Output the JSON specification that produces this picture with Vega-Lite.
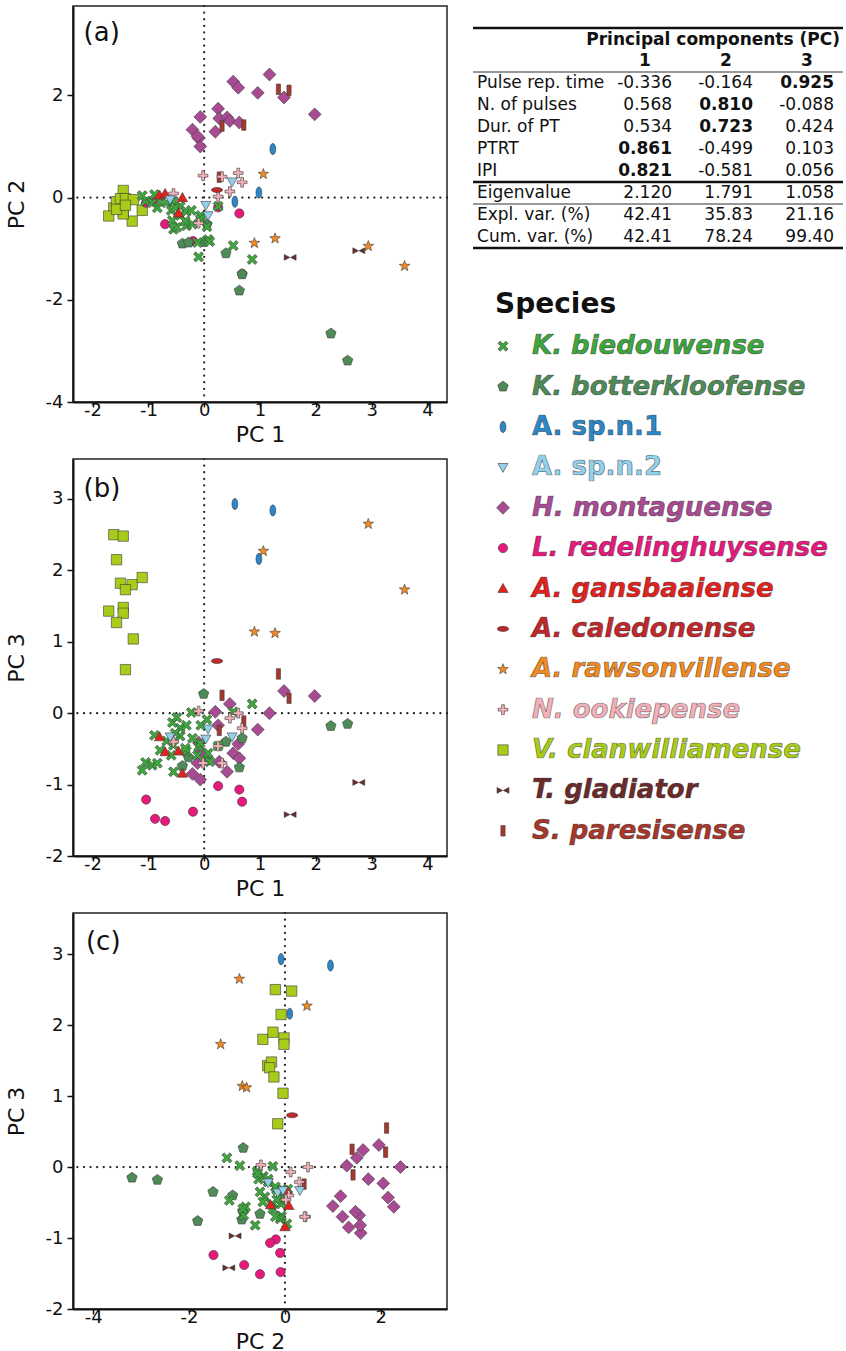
{
  "$schema": "https://vega.github.io/schema/vega-lite/v6.json",
  "padding": {"left": 4, "top": 4, "right": 2, "bottom": 0},
  "background": "white",
  "config": {
    "font": "DejaVu Sans",
    "locale": {"number": {"decimal": ".", "thousands": ",", "grouping": [3], "currency": ["$", ""], "minus": "-"}},
    "view": {"stroke": null},
    "axis": {"labelFont": "DejaVu Sans", "labelFontSize": 18, "labelColor": "#111", "titleFont": "DejaVu Sans", "titleFontSize": 22, "titleFontWeight": "normal", "titleColor": "#111", "domainColor": "#111", "domainWidth": 2, "tickColor": "#111", "tickWidth": 1.5, "grid": false, "labelOverlap": false, "format": "d"},
    "axisX": {"tickSize": 5, "labelPadding": -6, "titlePadding": 5},
    "axisY": {"tickSize": 6, "labelPadding": 4, "titlePadding": 17},
    "text": {"font": "DejaVu Sans", "color": "#111"}
  },
  "datasets": {
    "pts": [
      {"species": "V. clanwilliamense", "pc1": -1.62, "pc2": -0.2, "pc3": 2.5},
      {"species": "V. clanwilliamense", "pc1": -1.45, "pc2": 0.14, "pc3": 2.48},
      {"species": "V. clanwilliamense", "pc1": -1.57, "pc2": -0.08, "pc3": 2.15},
      {"species": "V. clanwilliamense", "pc1": -1.5, "pc2": -0.02, "pc3": 1.82},
      {"species": "V. clanwilliamense", "pc1": -1.29, "pc2": -0.46, "pc3": 1.8},
      {"species": "V. clanwilliamense", "pc1": -1.41, "pc2": -0.02, "pc3": 1.73},
      {"species": "V. clanwilliamense", "pc1": -1.11, "pc2": -0.25, "pc3": 1.9},
      {"species": "V. clanwilliamense", "pc1": -1.71, "pc2": -0.36, "pc3": 1.43},
      {"species": "V. clanwilliamense", "pc1": -1.45, "pc2": -0.28, "pc3": 1.48},
      {"species": "V. clanwilliamense", "pc1": -1.45, "pc2": -0.32, "pc3": 1.4},
      {"species": "V. clanwilliamense", "pc1": -1.57, "pc2": -0.23, "pc3": 1.27},
      {"species": "V. clanwilliamense", "pc1": -1.27, "pc2": -0.04, "pc3": 1.04},
      {"species": "V. clanwilliamense", "pc1": -1.41, "pc2": -0.15, "pc3": 0.61},
      {"species": "H. montaguense", "pc1": 1.17, "pc2": 2.41, "pc3": 0.0},
      {"species": "H. montaguense", "pc1": 0.52, "pc2": 2.27, "pc3": -0.56},
      {"species": "H. montaguense", "pc1": 0.61, "pc2": 2.15, "pc3": -0.43},
      {"species": "H. montaguense", "pc1": 0.96, "pc2": 2.05, "pc3": -0.23},
      {"species": "H. montaguense", "pc1": 1.43, "pc2": 1.96, "pc3": 0.31},
      {"species": "H. montaguense", "pc1": 1.98, "pc2": 1.63, "pc3": 0.24},
      {"species": "H. montaguense", "pc1": 0.25, "pc2": 1.74, "pc3": -0.17},
      {"species": "H. montaguense", "pc1": -0.07, "pc2": 1.58, "pc3": -0.93},
      {"species": "H. montaguense", "pc1": 0.27, "pc2": 1.55, "pc3": -0.68},
      {"species": "H. montaguense", "pc1": 0.41, "pc2": 1.57, "pc3": -0.82},
      {"species": "H. montaguense", "pc1": 0.46, "pc2": 1.5, "pc3": 0.13},
      {"species": "H. montaguense", "pc1": 0.63, "pc2": 1.47, "pc3": -0.63},
      {"species": "H. montaguense", "pc1": -0.21, "pc2": 1.33, "pc3": -0.85},
      {"species": "H. montaguense", "pc1": -0.1, "pc2": 1.16, "pc3": -0.41},
      {"species": "H. montaguense", "pc1": -0.07, "pc2": 1.0, "pc3": -0.55},
      {"species": "H. montaguense", "pc1": 0.2, "pc2": 1.29, "pc3": 0.02},
      {"species": "H. montaguense", "pc1": -0.12, "pc2": 1.2, "pc3": -0.7},
      {"species": "S. paresisense", "pc1": 1.33, "pc2": 2.12, "pc3": 0.55},
      {"species": "S. paresisense", "pc1": 1.52, "pc2": 2.1, "pc3": 0.21},
      {"species": "S. paresisense", "pc1": 0.32, "pc2": 1.4, "pc3": 0.25},
      {"species": "S. paresisense", "pc1": 0.71, "pc2": 1.42, "pc3": -0.11},
      {"species": "S. paresisense", "pc1": 0.27, "pc2": 0.4, "pc3": -0.24},
      {"species": "L. redelinghuysense", "pc1": -1.04, "pc2": -0.1, "pc3": -1.21},
      {"species": "L. redelinghuysense", "pc1": -0.88, "pc2": -0.09, "pc3": -1.48},
      {"species": "L. redelinghuysense", "pc1": -0.7, "pc2": -0.52, "pc3": -1.51},
      {"species": "L. redelinghuysense", "pc1": -0.2, "pc2": -0.85, "pc3": -1.38},
      {"species": "L. redelinghuysense", "pc1": 0.25, "pc2": -0.19, "pc3": -1.02},
      {"species": "L. redelinghuysense", "pc1": 0.63, "pc2": -0.31, "pc3": -1.07},
      {"species": "L. redelinghuysense", "pc1": 0.68, "pc2": -1.49, "pc3": -1.24},
      {"species": "K. botterkloofense", "pc1": 2.27, "pc2": -2.66, "pc3": -0.18},
      {"species": "K. botterkloofense", "pc1": 2.57, "pc2": -3.19, "pc3": -0.15},
      {"species": "K. botterkloofense", "pc1": 0.63, "pc2": -1.82, "pc3": -0.76},
      {"species": "K. botterkloofense", "pc1": 0.68, "pc2": -1.5, "pc3": -0.35},
      {"species": "K. botterkloofense", "pc1": 0.39, "pc2": -1.09, "pc3": -0.4},
      {"species": "K. botterkloofense", "pc1": -0.39, "pc2": -0.9, "pc3": -0.74},
      {"species": "K. botterkloofense", "pc1": -0.28, "pc2": -0.88, "pc3": -0.62},
      {"species": "K. botterkloofense", "pc1": -0.01, "pc2": -0.87, "pc3": 0.27},
      {"species": "K. botterkloofense", "pc1": 0.05, "pc2": -0.52, "pc3": -0.66},
      {"species": "K. biedouwense", "pc1": 0.86, "pc2": -1.21, "pc3": 0.13},
      {"species": "K. biedouwense", "pc1": 0.52, "pc2": -0.94, "pc3": 0.02},
      {"species": "K. biedouwense", "pc1": -0.1, "pc2": -1.16, "pc3": -0.47},
      {"species": "K. biedouwense", "pc1": 0.07, "pc2": -0.82, "pc3": -0.56},
      {"species": "K. biedouwense", "pc1": 0.1, "pc2": -0.86, "pc3": -0.68},
      {"species": "K. biedouwense", "pc1": -1.05, "pc2": -0.07, "pc3": -0.69},
      {"species": "K. biedouwense", "pc1": -0.93, "pc2": -0.1, "pc3": -0.73},
      {"species": "K. biedouwense", "pc1": -1.11, "pc2": 0.04, "pc3": -0.8},
      {"species": "K. biedouwense", "pc1": -0.84, "pc2": -0.2, "pc3": -0.7},
      {"species": "K. biedouwense", "pc1": -0.89, "pc2": 0.06, "pc3": -0.31},
      {"species": "K. biedouwense", "pc1": -0.79, "pc2": -0.08, "pc3": -0.52},
      {"species": "K. biedouwense", "pc1": -0.67, "pc2": -0.1, "pc3": -0.39},
      {"species": "K. biedouwense", "pc1": -0.55, "pc2": -0.08, "pc3": -0.45},
      {"species": "K. biedouwense", "pc1": -0.59, "pc2": -0.25, "pc3": -0.59},
      {"species": "K. biedouwense", "pc1": -0.55, "pc2": -0.62, "pc3": -0.82},
      {"species": "K. biedouwense", "pc1": -0.43, "pc2": -0.17, "pc3": -0.32},
      {"species": "K. biedouwense", "pc1": -0.43, "pc2": -0.35, "pc3": -0.21},
      {"species": "K. biedouwense", "pc1": -0.52, "pc2": -0.2, "pc3": -0.28},
      {"species": "K. biedouwense", "pc1": -0.32, "pc2": -0.27, "pc3": -0.53},
      {"species": "K. biedouwense", "pc1": -0.32, "pc2": -0.55, "pc3": -0.17},
      {"species": "K. biedouwense", "pc1": -0.57, "pc2": -0.45, "pc3": -0.13},
      {"species": "K. biedouwense", "pc1": -0.49, "pc2": -0.58, "pc3": -0.06},
      {"species": "K. biedouwense", "pc1": -0.23, "pc2": -0.25, "pc3": 0.01},
      {"species": "K. biedouwense", "pc1": -0.06, "pc2": -0.35, "pc3": -0.17},
      {"species": "K. biedouwense", "pc1": 0.05, "pc2": -0.57, "pc3": -0.09},
      {"species": "K. biedouwense", "pc1": -0.07, "pc2": -0.42, "pc3": -0.42},
      {"species": "K. biedouwense", "pc1": -0.21, "pc2": -0.52, "pc3": -0.35},
      {"species": "K. biedouwense", "pc1": -0.34, "pc2": -0.46, "pc3": -0.49},
      {"species": "K. biedouwense", "pc1": 0.25, "pc2": -0.17, "pc3": -0.46},
      {"species": "K. biedouwense", "pc1": -0.12, "pc2": -0.88, "pc3": -0.59},
      {"species": "A. gansbaaiense", "pc1": -0.8, "pc2": 0.05, "pc3": -0.33},
      {"species": "A. gansbaaiense", "pc1": -0.7, "pc2": 0.08, "pc3": -0.54},
      {"species": "A. gansbaaiense", "pc1": -0.46, "pc2": -0.3, "pc3": -0.53},
      {"species": "A. gansbaaiense", "pc1": -0.39, "pc2": 0.0, "pc3": -0.84},
      {"species": "N. ookiepense", "pc1": -0.02, "pc2": 0.43, "pc3": -0.7},
      {"species": "N. ookiepense", "pc1": 0.32, "pc2": 0.41, "pc3": -0.7},
      {"species": "N. ookiepense", "pc1": 0.61, "pc2": 0.48, "pc3": 0.0},
      {"species": "N. ookiepense", "pc1": 0.68, "pc2": 0.3, "pc3": -0.21},
      {"species": "N. ookiepense", "pc1": 0.46, "pc2": 0.12, "pc3": -0.07},
      {"species": "N. ookiepense", "pc1": -0.55, "pc2": 0.08, "pc3": -0.4},
      {"species": "N. ookiepense", "pc1": -0.1, "pc2": -0.5, "pc3": 0.03},
      {"species": "N. ookiepense", "pc1": 0.25, "pc2": 0.02, "pc3": -0.46},
      {"species": "A. sp.n.2", "pc1": 0.5, "pc2": 0.31, "pc3": -0.33},
      {"species": "A. sp.n.2", "pc1": 0.07, "pc2": -0.35, "pc3": -0.22},
      {"species": "A. sp.n.2", "pc1": 0.03, "pc2": -0.15, "pc3": -0.36},
      {"species": "A. sp.n.2", "pc1": -0.61, "pc2": -0.04, "pc3": -0.33},
      {"species": "A. sp.n.1", "pc1": 0.55, "pc2": -0.08, "pc3": 2.93},
      {"species": "A. sp.n.1", "pc1": 1.23, "pc2": 0.95, "pc3": 2.84},
      {"species": "A. sp.n.1", "pc1": 0.98, "pc2": 0.1, "pc3": 2.16},
      {"species": "A. caledonense", "pc1": 0.23, "pc2": 0.15, "pc3": 0.73},
      {"species": "A. rawsonvillense", "pc1": 1.06, "pc2": 0.46, "pc3": 2.27},
      {"species": "A. rawsonvillense", "pc1": 0.9, "pc2": -0.89, "pc3": 1.14},
      {"species": "A. rawsonvillense", "pc1": 1.27, "pc2": -0.8, "pc3": 1.12},
      {"species": "A. rawsonvillense", "pc1": 2.94, "pc2": -0.95, "pc3": 2.65},
      {"species": "A. rawsonvillense", "pc1": 3.59, "pc2": -1.34, "pc3": 1.73},
      {"species": "T. gladiator", "pc1": 1.54, "pc2": -1.17, "pc3": -1.42},
      {"species": "T. gladiator", "pc1": 2.77, "pc2": -1.04, "pc3": -0.97}
    ],
    "loadings": [
      {"variable": "Pulse rep. time", "r": 2, "pc": 1, "value": -0.336, "kind": "loading"},
      {"variable": "Pulse rep. time", "r": 2, "pc": 2, "value": -0.164, "kind": "loading"},
      {"variable": "Pulse rep. time", "r": 2, "pc": 3, "value": 0.925, "kind": "loading"},
      {"variable": "N. of pulses", "r": 3, "pc": 1, "value": 0.568, "kind": "loading"},
      {"variable": "N. of pulses", "r": 3, "pc": 2, "value": 0.81, "kind": "loading"},
      {"variable": "N. of pulses", "r": 3, "pc": 3, "value": -0.088, "kind": "loading"},
      {"variable": "Dur. of PT", "r": 4, "pc": 1, "value": 0.534, "kind": "loading"},
      {"variable": "Dur. of PT", "r": 4, "pc": 2, "value": 0.723, "kind": "loading"},
      {"variable": "Dur. of PT", "r": 4, "pc": 3, "value": 0.424, "kind": "loading"},
      {"variable": "PTRT", "r": 5, "pc": 1, "value": 0.861, "kind": "loading"},
      {"variable": "PTRT", "r": 5, "pc": 2, "value": -0.499, "kind": "loading"},
      {"variable": "PTRT", "r": 5, "pc": 3, "value": 0.103, "kind": "loading"},
      {"variable": "IPI", "r": 6, "pc": 1, "value": 0.821, "kind": "loading"},
      {"variable": "IPI", "r": 6, "pc": 2, "value": -0.581, "kind": "loading"},
      {"variable": "IPI", "r": 6, "pc": 3, "value": 0.056, "kind": "loading"},
      {"variable": "Eigenvalue", "r": 7, "pc": 1, "value": 2.12, "kind": "eigen"},
      {"variable": "Eigenvalue", "r": 7, "pc": 2, "value": 1.791, "kind": "eigen"},
      {"variable": "Eigenvalue", "r": 7, "pc": 3, "value": 1.058, "kind": "eigen"},
      {"variable": "Expl. var. (%)", "r": 8, "pc": 1, "value": 42.41, "kind": "var"},
      {"variable": "Expl. var. (%)", "r": 8, "pc": 2, "value": 35.83, "kind": "var"},
      {"variable": "Expl. var. (%)", "r": 8, "pc": 3, "value": 21.16, "kind": "var"},
      {"variable": "Cum. var. (%)", "r": 9, "pc": 1, "value": 42.41, "kind": "var"},
      {"variable": "Cum. var. (%)", "r": 9, "pc": 2, "value": 78.24, "kind": "var"},
      {"variable": "Cum. var. (%)", "r": 9, "pc": 3, "value": 99.4, "kind": "var"}
    ],
    "tableLines": [
      {"at": -0.5, "line": "heavy"},
      {"at": 1.5, "line": "light"},
      {"at": 6.5, "line": "heavy"},
      {"at": 7.5, "line": "light"},
      {"at": 9.5, "line": "heavy"}
    ],
    "speciesList": [
      {"species": "K. biedouwense"},
      {"species": "K. botterkloofense"},
      {"species": "A. sp.n.1"},
      {"species": "A. sp.n.2"},
      {"species": "H. montaguense"},
      {"species": "L. redelinghuysense"},
      {"species": "A. gansbaaiense"},
      {"species": "A. caledonense"},
      {"species": "A. rawsonvillense"},
      {"species": "N. ookiepense"},
      {"species": "V. clanwilliamense"},
      {"species": "T. gladiator"},
      {"species": "S. paresisense"}
    ]
  },
  "hconcat": [
    {
      "vconcat": [
        {
          "width": 374, "height": 396,
          "view": {"stroke": "#222", "strokeWidth": 1.5},
          "layer": [
            {"data": {"values": [{}]}, "mark": {"type": "rule", "strokeDash": [0.1, 6.5], "strokeCap": "round", "strokeWidth": 2.2, "color": "#222"},
             "encoding": {"x": {"datum": 0, "type": "quantitative", "scale": {"domain": [-2.35, 4.35], "nice": false, "zero": false}}}},
            {"data": {"values": [{}]}, "mark": {"type": "rule", "strokeDash": [0.1, 6.5], "strokeCap": "round", "strokeWidth": 2.2, "color": "#222"},
             "encoding": {"y": {"datum": 0, "type": "quantitative", "scale": {"domain": [-4, 3.75], "nice": false, "zero": false}}}},
            {"data": {"name": "pts"},
             "mark": {"type": "point", "filled": true, "opacity": 1, "size": 196, "stroke": "#3a3a3a", "strokeWidth": 0.6},
             "encoding": {
               "x": {"field": "pc1", "type": "quantitative", "scale": {"domain": [-2.35, 4.35], "nice": false, "zero": false}, "axis": {"title": "PC 1", "values": [-2, -1, 0, 1, 2, 3, 4]}},
               "y": {"field": "pc2", "type": "quantitative", "scale": {"domain": [-4, 3.75], "nice": false, "zero": false}, "axis": {"title": "PC 2", "values": [-4, -2, 0, 2]}},
               "color": {"field": "species", "type": "nominal", "legend": null, "scale": {"domain": ["K. biedouwense", "K. botterkloofense", "A. sp.n.1", "A. sp.n.2", "H. montaguense", "L. redelinghuysense", "A. gansbaaiense", "A. caledonense", "A. rawsonvillense", "N. ookiepense", "V. clanwilliamense", "T. gladiator", "S. paresisense"], "range": ["#3DA63D", "#4E8B57", "#2C87C8", "#93D0EC", "#A94B93", "#E8197D", "#E3221E", "#C0282C", "#F18A22", "#F2B0B8", "#A9CC1A", "#6B2B2B", "#A8372C"]}},
               "shape": {"field": "species", "type": "nominal", "legend": null, "scale": {"domain": ["K. biedouwense", "K. botterkloofense", "A. sp.n.1", "A. sp.n.2", "H. montaguense", "L. redelinghuysense", "A. gansbaaiense", "A. caledonense", "A. rawsonvillense", "N. ookiepense", "V. clanwilliamense", "T. gladiator", "S. paresisense"], "range": ["M0.41,-0.72L0.72,-0.41L0.31,0L0.72,0.41L0.41,0.72L0,0.31L-0.41,0.72L-0.72,0.41L-0.31,0L-0.72,-0.41L-0.41,-0.72L0,-0.31Z", "M0,-0.78L0.74,-0.24L0.46,0.63L-0.46,0.63L-0.74,-0.24Z", "M0,-0.8A0.42,0.8,0,1,1,0,0.8A0.42,0.8,0,1,1,0,-0.8Z", "M-0.72,-0.55L0.72,-0.55L0,0.72Z", "M0,-0.92L0.92,0L0,0.92L-0.92,0Z", "M0,-0.66A0.66,0.66,0,1,1,0,0.66A0.66,0.66,0,1,1,0,-0.66Z", "M0,-0.72L0.74,0.58L-0.74,0.58Z", "M-0.8,0A0.8,0.36,0,1,1,0.8,0A0.8,0.36,0,1,1,-0.8,0Z", "M0,-0.8L0.19,-0.27L0.76,-0.25L0.31,0.1L0.47,0.65L0,0.33L-0.47,0.65L-0.31,0.1L-0.76,-0.25L-0.19,-0.27Z", "M-0.2,-0.7L0.2,-0.7L0.2,-0.2L0.7,-0.2L0.7,0.2L0.2,0.2L0.2,0.7L-0.2,0.7L-0.2,0.2L-0.7,0.2L-0.7,-0.2L-0.2,-0.2Z", "M-0.74,-0.74L0.74,-0.74L0.74,0.74L-0.74,0.74Z", "M-0.85,-0.42L-0.05,0L-0.85,0.42ZM0.85,-0.42L0.05,0L0.85,0.42Z", "M-0.3,-0.75L0.3,-0.75L0.3,0.75L-0.3,0.75Z"]}}
             }},
            {"data": {"values": [{}]}, "mark": {"type": "text", "text": "(a)", "align": "left", "baseline": "middle", "fontSize": 26},
             "encoding": {"x": {"datum": -2.16, "type": "quantitative", "scale": {"domain": [-2.35, 4.35], "nice": false, "zero": false}}, "y": {"datum": 3.22, "type": "quantitative", "scale": {"domain": [-4, 3.75], "nice": false, "zero": false}}}}
          ]
        },
        {
          "width": 374, "height": 397,
          "view": {"stroke": "#222", "strokeWidth": 1.5},
          "layer": [
            {"data": {"values": [{}]}, "mark": {"type": "rule", "strokeDash": [0.1, 6.5], "strokeCap": "round", "strokeWidth": 2.2, "color": "#222"},
             "encoding": {"x": {"datum": 0, "type": "quantitative", "scale": {"domain": [-2.35, 4.35], "nice": false, "zero": false}}}},
            {"data": {"values": [{}]}, "mark": {"type": "rule", "strokeDash": [0.1, 6.5], "strokeCap": "round", "strokeWidth": 2.2, "color": "#222"},
             "encoding": {"y": {"datum": 0, "type": "quantitative", "scale": {"domain": [-2, 3.56], "nice": false, "zero": false}}}},
            {"data": {"name": "pts"},
             "mark": {"type": "point", "filled": true, "opacity": 1, "size": 196, "stroke": "#3a3a3a", "strokeWidth": 0.6},
             "encoding": {
               "x": {"field": "pc1", "type": "quantitative", "scale": {"domain": [-2.35, 4.35], "nice": false, "zero": false}, "axis": {"title": "PC 1", "values": [-2, -1, 0, 1, 2, 3, 4]}},
               "y": {"field": "pc3", "type": "quantitative", "scale": {"domain": [-2, 3.56], "nice": false, "zero": false}, "axis": {"title": "PC 3", "values": [-2, -1, 0, 1, 2, 3]}},
               "color": {"field": "species", "type": "nominal", "legend": null, "scale": {"domain": ["K. biedouwense", "K. botterkloofense", "A. sp.n.1", "A. sp.n.2", "H. montaguense", "L. redelinghuysense", "A. gansbaaiense", "A. caledonense", "A. rawsonvillense", "N. ookiepense", "V. clanwilliamense", "T. gladiator", "S. paresisense"], "range": ["#3DA63D", "#4E8B57", "#2C87C8", "#93D0EC", "#A94B93", "#E8197D", "#E3221E", "#C0282C", "#F18A22", "#F2B0B8", "#A9CC1A", "#6B2B2B", "#A8372C"]}},
               "shape": {"field": "species", "type": "nominal", "legend": null, "scale": {"domain": ["K. biedouwense", "K. botterkloofense", "A. sp.n.1", "A. sp.n.2", "H. montaguense", "L. redelinghuysense", "A. gansbaaiense", "A. caledonense", "A. rawsonvillense", "N. ookiepense", "V. clanwilliamense", "T. gladiator", "S. paresisense"], "range": ["M0.41,-0.72L0.72,-0.41L0.31,0L0.72,0.41L0.41,0.72L0,0.31L-0.41,0.72L-0.72,0.41L-0.31,0L-0.72,-0.41L-0.41,-0.72L0,-0.31Z", "M0,-0.78L0.74,-0.24L0.46,0.63L-0.46,0.63L-0.74,-0.24Z", "M0,-0.8A0.42,0.8,0,1,1,0,0.8A0.42,0.8,0,1,1,0,-0.8Z", "M-0.72,-0.55L0.72,-0.55L0,0.72Z", "M0,-0.92L0.92,0L0,0.92L-0.92,0Z", "M0,-0.66A0.66,0.66,0,1,1,0,0.66A0.66,0.66,0,1,1,0,-0.66Z", "M0,-0.72L0.74,0.58L-0.74,0.58Z", "M-0.8,0A0.8,0.36,0,1,1,0.8,0A0.8,0.36,0,1,1,-0.8,0Z", "M0,-0.8L0.19,-0.27L0.76,-0.25L0.31,0.1L0.47,0.65L0,0.33L-0.47,0.65L-0.31,0.1L-0.76,-0.25L-0.19,-0.27Z", "M-0.2,-0.7L0.2,-0.7L0.2,-0.2L0.7,-0.2L0.7,0.2L0.2,0.2L0.2,0.7L-0.2,0.7L-0.2,0.2L-0.7,0.2L-0.7,-0.2L-0.2,-0.2Z", "M-0.74,-0.74L0.74,-0.74L0.74,0.74L-0.74,0.74Z", "M-0.85,-0.42L-0.05,0L-0.85,0.42ZM0.85,-0.42L0.05,0L0.85,0.42Z", "M-0.3,-0.75L0.3,-0.75L0.3,0.75L-0.3,0.75Z"]}}
             }},
            {"data": {"values": [{}]}, "mark": {"type": "text", "text": "(b)", "align": "left", "baseline": "middle", "fontSize": 26},
             "encoding": {"x": {"datum": -2.16, "type": "quantitative", "scale": {"domain": [-2.35, 4.35], "nice": false, "zero": false}}, "y": {"datum": 3.14, "type": "quantitative", "scale": {"domain": [-2, 3.56], "nice": false, "zero": false}}}}
          ]
        },
        {
          "width": 374, "height": 396,
          "view": {"stroke": "#222", "strokeWidth": 1.5},
          "layer": [
            {"data": {"values": [{}]}, "mark": {"type": "rule", "strokeDash": [0.1, 6.5], "strokeCap": "round", "strokeWidth": 2.2, "color": "#222"},
             "encoding": {"x": {"datum": 0, "type": "quantitative", "scale": {"domain": [-4.42, 3.38], "nice": false, "zero": false}}}},
            {"data": {"values": [{}]}, "mark": {"type": "rule", "strokeDash": [0.1, 6.5], "strokeCap": "round", "strokeWidth": 2.2, "color": "#222"},
             "encoding": {"y": {"datum": 0, "type": "quantitative", "scale": {"domain": [-2, 3.58], "nice": false, "zero": false}}}},
            {"data": {"name": "pts"},
             "mark": {"type": "point", "filled": true, "opacity": 1, "size": 196, "stroke": "#3a3a3a", "strokeWidth": 0.6},
             "encoding": {
               "x": {"field": "pc2", "type": "quantitative", "scale": {"domain": [-4.42, 3.38], "nice": false, "zero": false}, "axis": {"title": "PC 2", "values": [-4, -2, 0, 2]}},
               "y": {"field": "pc3", "type": "quantitative", "scale": {"domain": [-2, 3.58], "nice": false, "zero": false}, "axis": {"title": "PC 3", "values": [-2, -1, 0, 1, 2, 3]}},
               "color": {"field": "species", "type": "nominal", "legend": null, "scale": {"domain": ["K. biedouwense", "K. botterkloofense", "A. sp.n.1", "A. sp.n.2", "H. montaguense", "L. redelinghuysense", "A. gansbaaiense", "A. caledonense", "A. rawsonvillense", "N. ookiepense", "V. clanwilliamense", "T. gladiator", "S. paresisense"], "range": ["#3DA63D", "#4E8B57", "#2C87C8", "#93D0EC", "#A94B93", "#E8197D", "#E3221E", "#C0282C", "#F18A22", "#F2B0B8", "#A9CC1A", "#6B2B2B", "#A8372C"]}},
               "shape": {"field": "species", "type": "nominal", "legend": null, "scale": {"domain": ["K. biedouwense", "K. botterkloofense", "A. sp.n.1", "A. sp.n.2", "H. montaguense", "L. redelinghuysense", "A. gansbaaiense", "A. caledonense", "A. rawsonvillense", "N. ookiepense", "V. clanwilliamense", "T. gladiator", "S. paresisense"], "range": ["M0.41,-0.72L0.72,-0.41L0.31,0L0.72,0.41L0.41,0.72L0,0.31L-0.41,0.72L-0.72,0.41L-0.31,0L-0.72,-0.41L-0.41,-0.72L0,-0.31Z", "M0,-0.78L0.74,-0.24L0.46,0.63L-0.46,0.63L-0.74,-0.24Z", "M0,-0.8A0.42,0.8,0,1,1,0,0.8A0.42,0.8,0,1,1,0,-0.8Z", "M-0.72,-0.55L0.72,-0.55L0,0.72Z", "M0,-0.92L0.92,0L0,0.92L-0.92,0Z", "M0,-0.66A0.66,0.66,0,1,1,0,0.66A0.66,0.66,0,1,1,0,-0.66Z", "M0,-0.72L0.74,0.58L-0.74,0.58Z", "M-0.8,0A0.8,0.36,0,1,1,0.8,0A0.8,0.36,0,1,1,-0.8,0Z", "M0,-0.8L0.19,-0.27L0.76,-0.25L0.31,0.1L0.47,0.65L0,0.33L-0.47,0.65L-0.31,0.1L-0.76,-0.25L-0.19,-0.27Z", "M-0.2,-0.7L0.2,-0.7L0.2,-0.2L0.7,-0.2L0.7,0.2L0.2,0.2L0.2,0.7L-0.2,0.7L-0.2,0.2L-0.7,0.2L-0.7,-0.2L-0.2,-0.2Z", "M-0.74,-0.74L0.74,-0.74L0.74,0.74L-0.74,0.74Z", "M-0.85,-0.42L-0.05,0L-0.85,0.42ZM0.85,-0.42L0.05,0L0.85,0.42Z", "M-0.3,-0.75L0.3,-0.75L0.3,0.75L-0.3,0.75Z"]}}
             }},
            {"data": {"values": [{}]}, "mark": {"type": "text", "text": "(c)", "align": "left", "baseline": "middle", "fontSize": 26},
             "encoding": {"x": {"datum": -4.15, "type": "quantitative", "scale": {"domain": [-4.42, 3.38], "nice": false, "zero": false}}, "y": {"datum": 3.17, "type": "quantitative", "scale": {"domain": [-2, 3.58], "nice": false, "zero": false}}}}
          ]
        }
      ],
      "spacing": 57,
      "bounds": "flush"
    },
    {
      "vconcat": [
        {
          "width": 370, "height": 264,
          "data": {"name": "loadings"},
          "encoding": {
            "x": {"field": "pc", "type": "quantitative", "scale": {"domain": [-1.457, 3.111], "nice": false, "zero": false}, "axis": null},
            "y": {"field": "r", "type": "quantitative", "scale": {"domain": [-1.5, 10.5], "reverse": true, "nice": false, "zero": false}, "axis": null}
          },
          "layer": [
            {"data": {"name": "tableLines"}, "transform": [{"filter": "datum.line == 'heavy'"}], "mark": {"type": "rule", "strokeWidth": 2.4, "color": "#111"}, "encoding": {"x": null, "y": {"field": "at", "type": "quantitative"}}},
            {"data": {"name": "tableLines"}, "transform": [{"filter": "datum.line == 'light'"}], "mark": {"type": "rule", "strokeWidth": 1.2, "color": "#333"}, "encoding": {"x": null, "y": {"field": "at", "type": "quantitative"}}},
            {"transform": [{"filter": "datum.r == 2 && datum.pc == 3"}], "mark": {"type": "text", "text": "Principal components (PC)", "align": "right", "baseline": "middle", "dx": 6, "fontSize": 17, "fontWeight": "bold"}, "encoding": {"y": {"datum": 0.05, "type": "quantitative"}}},
            {"transform": [{"filter": "datum.r == 2"}], "mark": {"type": "text", "align": "center", "baseline": "middle", "dx": -27, "fontSize": 17, "fontWeight": "bold"}, "encoding": {"y": {"datum": 1, "type": "quantitative"}, "text": {"field": "pc", "type": "nominal"}}},
            {"transform": [{"filter": "datum.pc == 1"}], "mark": {"type": "text", "align": "left", "baseline": "middle", "dx": -114, "fontSize": 17}, "encoding": {"x": {"datum": 0, "type": "quantitative"}, "text": {"field": "variable", "type": "nominal"}}},
            {"transform": [{"filter": "datum.kind != 'var' && !(datum.kind == 'loading' && abs(datum.value) >= 0.7)"}], "mark": {"type": "text", "align": "right", "baseline": "middle", "fontSize": 17}, "encoding": {"text": {"field": "value", "type": "quantitative", "format": ".3f"}}},
            {"transform": [{"filter": "datum.kind == 'loading' && abs(datum.value) >= 0.7"}], "mark": {"type": "text", "align": "right", "baseline": "middle", "fontSize": 17, "fontWeight": "bold"}, "encoding": {"text": {"field": "value", "type": "quantitative", "format": ".3f"}}},
            {"transform": [{"filter": "datum.kind == 'var'"}], "mark": {"type": "text", "align": "right", "baseline": "middle", "fontSize": 17}, "encoding": {"text": {"field": "value", "type": "quantitative", "format": ".2f"}}}
          ]
        },
        {
          "width": 60, "height": 525,
          "title": {"text": "Species", "anchor": "start", "dx": 22, "offset": 7, "fontSize": 28, "font": "DejaVu Sans", "fontWeight": "bold", "color": "#111"},
          "data": {"name": "speciesList"},
          "encoding": {
            "y": {"field": "species", "type": "nominal", "axis": null, "sort": null, "scale": {"type": "point", "padding": 0.5, "domain": ["K. biedouwense", "K. botterkloofense", "A. sp.n.1", "A. sp.n.2", "H. montaguense", "L. redelinghuysense", "A. gansbaaiense", "A. caledonense", "A. rawsonvillense", "N. ookiepense", "V. clanwilliamense", "T. gladiator", "S. paresisense"]}},
            "color": {"field": "species", "type": "nominal", "legend": null, "scale": {"domain": ["K. biedouwense", "K. botterkloofense", "A. sp.n.1", "A. sp.n.2", "H. montaguense", "L. redelinghuysense", "A. gansbaaiense", "A. caledonense", "A. rawsonvillense", "N. ookiepense", "V. clanwilliamense", "T. gladiator", "S. paresisense"], "range": ["#3DA63D", "#4E8B57", "#2C87C8", "#93D0EC", "#A94B93", "#E8197D", "#E3221E", "#C0282C", "#F18A22", "#F2B0B8", "#A9CC1A", "#6B2B2B", "#A8372C"]}}
          },
          "layer": [
            {"mark": {"type": "point", "filled": true, "opacity": 1, "size": 196, "stroke": "#3a3a3a", "strokeWidth": 0.6},
             "encoding": {"shape": {"field": "species", "type": "nominal", "legend": null, "scale": {"domain": ["K. biedouwense", "K. botterkloofense", "A. sp.n.1", "A. sp.n.2", "H. montaguense", "L. redelinghuysense", "A. gansbaaiense", "A. caledonense", "A. rawsonvillense", "N. ookiepense", "V. clanwilliamense", "T. gladiator", "S. paresisense"], "range": ["M0.41,-0.72L0.72,-0.41L0.31,0L0.72,0.41L0.41,0.72L0,0.31L-0.41,0.72L-0.72,0.41L-0.31,0L-0.72,-0.41L-0.41,-0.72L0,-0.31Z", "M0,-0.78L0.74,-0.24L0.46,0.63L-0.46,0.63L-0.74,-0.24Z", "M0,-0.8A0.42,0.8,0,1,1,0,0.8A0.42,0.8,0,1,1,0,-0.8Z", "M-0.72,-0.55L0.72,-0.55L0,0.72Z", "M0,-0.92L0.92,0L0,0.92L-0.92,0Z", "M0,-0.66A0.66,0.66,0,1,1,0,0.66A0.66,0.66,0,1,1,0,-0.66Z", "M0,-0.72L0.74,0.58L-0.74,0.58Z", "M-0.8,0A0.8,0.36,0,1,1,0.8,0A0.8,0.36,0,1,1,-0.8,0Z", "M0,-0.8L0.19,-0.27L0.76,-0.25L0.31,0.1L0.47,0.65L0,0.33L-0.47,0.65L-0.31,0.1L-0.76,-0.25L-0.19,-0.27Z", "M-0.2,-0.7L0.2,-0.7L0.2,-0.2L0.7,-0.2L0.7,0.2L0.2,0.2L0.2,0.7L-0.2,0.7L-0.2,0.2L-0.7,0.2L-0.7,-0.2L-0.2,-0.2Z", "M-0.74,-0.74L0.74,-0.74L0.74,0.74L-0.74,0.74Z", "M-0.85,-0.42L-0.05,0L-0.85,0.42ZM0.85,-0.42L0.05,0L0.85,0.42Z", "M-0.3,-0.75L0.3,-0.75L0.3,0.75L-0.3,0.75Z"]}}}},
            {"transform": [{"filter": "indexof(datum.species, 'sp.n.') < 0"}],
             "mark": {"type": "text", "align": "left", "baseline": "middle", "dx": 29, "fontSize": 26, "fontWeight": "bold", "fontStyle": "italic", "stroke": "#2a2a2a", "strokeWidth": 0.7, "strokeOpacity": 0.6},
             "encoding": {"text": {"field": "species", "type": "nominal"}}},
            {"transform": [{"filter": "indexof(datum.species, 'sp.n.') >= 0"}],
             "mark": {"type": "text", "align": "left", "baseline": "middle", "dx": 29, "fontSize": 26, "fontWeight": "bold", "stroke": "#2a2a2a", "strokeWidth": 0.7, "strokeOpacity": 0.6},
             "encoding": {"text": {"field": "species", "type": "nominal"}}}
          ]
        }
      ],
      "spacing": 56,
      "bounds": "flush"
    }
  ],
  "spacing": 22
}
